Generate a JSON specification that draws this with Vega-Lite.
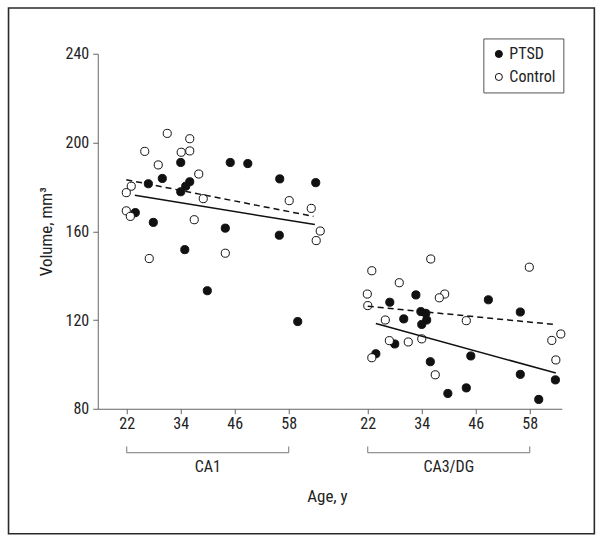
{
  "$schema": "https://vega.github.io/schema/vega-lite/v6.json",
  "background": "white",
  "padding": 6.75,
  "bounds": "flush",
  "spacing": 0,
  "datasets": {
    "points": [
      {"region": "CA1", "group": "PTSD", "age": 34.0, "volume": 191.0},
      {"region": "CA1", "group": "PTSD", "age": 45.0, "volume": 191.0},
      {"region": "CA1", "group": "PTSD", "age": 48.9, "volume": 190.5},
      {"region": "CA1", "group": "PTSD", "age": 29.9, "volume": 183.8},
      {"region": "CA1", "group": "PTSD", "age": 56.0, "volume": 183.6},
      {"region": "CA1", "group": "PTSD", "age": 26.8, "volume": 181.4},
      {"region": "CA1", "group": "PTSD", "age": 36.0, "volume": 182.3},
      {"region": "CA1", "group": "PTSD", "age": 64.0, "volume": 181.9},
      {"region": "CA1", "group": "PTSD", "age": 35.1, "volume": 180.3},
      {"region": "CA1", "group": "PTSD", "age": 34.0, "volume": 177.8},
      {"region": "CA1", "group": "PTSD", "age": 23.9, "volume": 168.4},
      {"region": "CA1", "group": "PTSD", "age": 27.9, "volume": 164.0},
      {"region": "CA1", "group": "PTSD", "age": 43.9, "volume": 161.4},
      {"region": "CA1", "group": "PTSD", "age": 55.9, "volume": 158.2},
      {"region": "CA1", "group": "PTSD", "age": 34.9, "volume": 151.7},
      {"region": "CA1", "group": "PTSD", "age": 39.9, "volume": 133.2},
      {"region": "CA1", "group": "PTSD", "age": 60.0, "volume": 119.3},
      {"region": "CA1", "group": "Control", "age": 31.0, "volume": 204.1},
      {"region": "CA1", "group": "Control", "age": 36.0, "volume": 201.7},
      {"region": "CA1", "group": "Control", "age": 26.0, "volume": 196.0},
      {"region": "CA1", "group": "Control", "age": 34.1, "volume": 195.6},
      {"region": "CA1", "group": "Control", "age": 36.0, "volume": 196.2},
      {"region": "CA1", "group": "Control", "age": 29.0, "volume": 189.9},
      {"region": "CA1", "group": "Control", "age": 38.0, "volume": 185.8},
      {"region": "CA1", "group": "Control", "age": 23.0, "volume": 180.3},
      {"region": "CA1", "group": "Control", "age": 21.9, "volume": 177.4},
      {"region": "CA1", "group": "Control", "age": 39.0, "volume": 174.7},
      {"region": "CA1", "group": "Control", "age": 58.1, "volume": 173.8},
      {"region": "CA1", "group": "Control", "age": 63.0, "volume": 170.3},
      {"region": "CA1", "group": "Control", "age": 21.9, "volume": 169.2},
      {"region": "CA1", "group": "Control", "age": 22.8, "volume": 166.7},
      {"region": "CA1", "group": "Control", "age": 37.0, "volume": 165.2},
      {"region": "CA1", "group": "Control", "age": 65.0, "volume": 160.1},
      {"region": "CA1", "group": "Control", "age": 64.1, "volume": 155.8},
      {"region": "CA1", "group": "Control", "age": 43.9, "volume": 150.1},
      {"region": "CA1", "group": "Control", "age": 27.0, "volume": 147.7},
      {"region": "CA3/DG", "group": "PTSD", "age": 32.7, "volume": 131.3},
      {"region": "CA3/DG", "group": "PTSD", "age": 48.8, "volume": 129.1},
      {"region": "CA3/DG", "group": "PTSD", "age": 26.9, "volume": 128.0},
      {"region": "CA3/DG", "group": "PTSD", "age": 55.9, "volume": 123.6},
      {"region": "CA3/DG", "group": "PTSD", "age": 33.8, "volume": 123.8},
      {"region": "CA3/DG", "group": "PTSD", "age": 34.9, "volume": 123.0},
      {"region": "CA3/DG", "group": "PTSD", "age": 30.0, "volume": 120.5},
      {"region": "CA3/DG", "group": "PTSD", "age": 35.1, "volume": 120.0},
      {"region": "CA3/DG", "group": "PTSD", "age": 34.0, "volume": 118.0},
      {"region": "CA3/DG", "group": "PTSD", "age": 28.0, "volume": 109.2},
      {"region": "CA3/DG", "group": "PTSD", "age": 23.8, "volume": 104.8},
      {"region": "CA3/DG", "group": "PTSD", "age": 44.9, "volume": 103.8},
      {"region": "CA3/DG", "group": "PTSD", "age": 35.9, "volume": 101.2},
      {"region": "CA3/DG", "group": "PTSD", "age": 55.9, "volume": 95.5},
      {"region": "CA3/DG", "group": "PTSD", "age": 63.7, "volume": 93.0},
      {"region": "CA3/DG", "group": "PTSD", "age": 43.9, "volume": 89.4},
      {"region": "CA3/DG", "group": "PTSD", "age": 39.8, "volume": 86.9},
      {"region": "CA3/DG", "group": "PTSD", "age": 60.0, "volume": 84.2},
      {"region": "CA3/DG", "group": "Control", "age": 36.0, "volume": 147.5},
      {"region": "CA3/DG", "group": "Control", "age": 57.9, "volume": 143.8},
      {"region": "CA3/DG", "group": "Control", "age": 22.9, "volume": 142.2},
      {"region": "CA3/DG", "group": "Control", "age": 29.0, "volume": 136.8},
      {"region": "CA3/DG", "group": "Control", "age": 21.9, "volume": 131.7},
      {"region": "CA3/DG", "group": "Control", "age": 39.1, "volume": 131.7},
      {"region": "CA3/DG", "group": "Control", "age": 37.9, "volume": 130.0},
      {"region": "CA3/DG", "group": "Control", "age": 22.0, "volume": 126.5},
      {"region": "CA3/DG", "group": "Control", "age": 25.9, "volume": 120.0},
      {"region": "CA3/DG", "group": "Control", "age": 43.9, "volume": 119.7},
      {"region": "CA3/DG", "group": "Control", "age": 64.9, "volume": 113.7},
      {"region": "CA3/DG", "group": "Control", "age": 62.9, "volume": 110.8},
      {"region": "CA3/DG", "group": "Control", "age": 26.8, "volume": 110.7},
      {"region": "CA3/DG", "group": "Control", "age": 31.0, "volume": 110.1},
      {"region": "CA3/DG", "group": "Control", "age": 34.0, "volume": 111.5},
      {"region": "CA3/DG", "group": "Control", "age": 63.8, "volume": 102.0},
      {"region": "CA3/DG", "group": "Control", "age": 22.9, "volume": 103.0},
      {"region": "CA3/DG", "group": "Control", "age": 37.0, "volume": 95.3}
    ],
    "lines": [
      {"region": "CA1", "group": "PTSD", "age": 23.8, "volume": 176.2},
      {"region": "CA1", "group": "PTSD", "age": 63.8, "volume": 163.0},
      {"region": "CA1", "group": "Control", "age": 21.9, "volume": 183.2},
      {"region": "CA1", "group": "Control", "age": 63.5, "volume": 166.7},
      {"region": "CA3/DG", "group": "PTSD", "age": 23.8, "volume": 118.4},
      {"region": "CA3/DG", "group": "PTSD", "age": 63.8, "volume": 96.1},
      {"region": "CA3/DG", "group": "Control", "age": 22.0, "volume": 126.2},
      {"region": "CA3/DG", "group": "Control", "age": 63.9, "volume": 117.9}
    ]
  },
  "config": {
    "view": {"stroke": null},
    "font": "Roboto Condensed",
    "axis": {
      "grid": false,
      "domainColor": "#666666",
      "tickColor": "#666666",
      "tickSize": 5,
      "labelFont": "Roboto Condensed",
      "labelFontSize": 16,
      "labelColor": "#222222",
      "titleFont": "Roboto Condensed",
      "titleFontWeight": "normal",
      "titleColor": "#222222"
    },
    "legend": {
      "labelFont": "Roboto Condensed"
    }
  },
  "resolve": {
    "scale": {"x": "independent", "y": "independent"},
    "legend": {"fill": "independent"}
  },
  "hconcat": [
    {
      "width": 240,
      "height": 355,
      "layer": [
        {
          "data": {"name": "points"},
          "transform": [{"filter": "datum.region === 'CA1'"}],
          "mark": {"type": "circle", "size": 66, "stroke": "#111111", "strokeWidth": 1, "opacity": 1},
          "encoding": {
            "x": {"field": "age", "type": "quantitative",
              "scale": {"domain": [15.556, 68.889], "nice": false, "zero": false},
              "axis": {"values": [22, 34, 46, 58], "title": null, "labelPadding": 2}},
            "y": {"field": "volume", "type": "quantitative",
              "scale": {"domain": [80, 240], "nice": false, "zero": false},
              "axis": {"values": [80, 120, 160, 200, 240], "title": "Volume, mm³", "titleFontSize": 17, "titlePadding": 10, "labelPadding": 4}},
            "fill": {"field": "group", "type": "nominal",
              "scale": {"domain": ["PTSD", "Control"], "range": ["#111111", "#ffffff"]},
              "legend": null}
          }
        },
        {
          "data": {"name": "lines"},
          "transform": [{"filter": "datum.region === 'CA1' && datum.group === 'PTSD'"}],
          "mark": {"type": "line", "color": "#111111", "strokeWidth": 1.5},
          "encoding": {
            "x": {"field": "age", "type": "quantitative"},
            "y": {"field": "volume", "type": "quantitative"}
          }
        },
        {
          "data": {"name": "lines"},
          "transform": [{"filter": "datum.region === 'CA1' && datum.group === 'Control'"}],
          "mark": {"type": "line", "color": "#111111", "strokeWidth": 1.5, "strokeDash": [6, 4]},
          "encoding": {
            "x": {"field": "age", "type": "quantitative"},
            "y": {"field": "volume", "type": "quantitative"}
          }
        },
        {
          "data": {"values": [{}]},
          "mark": {"type": "rule", "color": "#777777", "strokeWidth": 1},
          "encoding": {
            "x": {"datum": 22, "type": "quantitative"},
            "x2": {"datum": 58},
            "y": {"datum": 60.17, "type": "quantitative"}
          }
        },
        {
          "data": {"values": [{}]},
          "mark": {"type": "rule", "color": "#777777", "strokeWidth": 1},
          "encoding": {
            "x": {"datum": 22, "type": "quantitative"},
            "y": {"datum": 60.17, "type": "quantitative"},
            "y2": {"datum": 63.0}
          }
        },
        {
          "data": {"values": [{}]},
          "mark": {"type": "rule", "color": "#777777", "strokeWidth": 1},
          "encoding": {
            "x": {"datum": 58, "type": "quantitative"},
            "y": {"datum": 60.17, "type": "quantitative"},
            "y2": {"datum": 63.0}
          }
        },
        {
          "data": {"values": [{}]},
          "mark": {"type": "text", "fontSize": 16, "color": "#222222", "baseline": "middle", "align": "center"},
          "encoding": {
            "x": {"datum": 40, "type": "quantitative"},
            "y": {"datum": 53.7, "type": "quantitative"},
            "text": {"value": "CA1"}
          }
        },
        {
          "data": {"values": [{}]},
          "mark": {"type": "text", "fontSize": 17, "color": "#222222", "baseline": "middle", "align": "center"},
          "encoding": {
            "x": {"datum": 66.6, "type": "quantitative"},
            "y": {"datum": 40.16, "type": "quantitative"},
            "text": {"value": "Age, y"}
          }
        },
        {
          "data": {"values": [{}]},
          "mark": {"type": "rect", "filled": false, "stroke": "#2a2a2a", "strokeWidth": 1.6},
          "encoding": {
            "x": {"datum": -4.27, "type": "quantitative"},
            "x2": {"datum": 125.91},
            "y": {"datum": 260.64, "type": "quantitative"},
            "y2": {"datum": 23.66}
          }
        }
      ]
    },
    {
      "width": 224,
      "height": 355,
      "layer": [
        {
          "data": {"name": "points"},
          "transform": [{"filter": "datum.region === 'CA3/DG'"}],
          "mark": {"type": "circle", "size": 66, "stroke": "#111111", "strokeWidth": 1, "opacity": 1},
          "encoding": {
            "x": {"field": "age", "type": "quantitative",
              "scale": {"domain": [15.333, 65.111], "nice": false, "zero": false},
              "axis": {"values": [22, 34, 46, 58], "title": null, "labelPadding": 2}},
            "y": {"field": "volume", "type": "quantitative",
              "scale": {"domain": [80, 240], "nice": false, "zero": false},
              "axis": null},
            "fill": {"field": "group", "type": "nominal",
              "scale": {"domain": ["PTSD", "Control"], "range": ["#111111", "#ffffff"]},
              "legend": {"title": null, "orient": "none", "legendX": 145.6, "legendY": -15.3,
                "strokeColor": "#555555", "padding": 7.5, "labelFontSize": 16, "labelColor": "#222222",
                "symbolSize": 50, "symbolType": "circle", "symbolStrokeColor": "#111111", "symbolStrokeWidth": 1,
                "rowPadding": 7, "labelOffset": 2.5}}
          }
        },
        {
          "data": {"name": "lines"},
          "transform": [{"filter": "datum.region === 'CA3/DG' && datum.group === 'PTSD'"}],
          "mark": {"type": "line", "color": "#111111", "strokeWidth": 1.5},
          "encoding": {
            "x": {"field": "age", "type": "quantitative"},
            "y": {"field": "volume", "type": "quantitative"}
          }
        },
        {
          "data": {"name": "lines"},
          "transform": [{"filter": "datum.region === 'CA3/DG' && datum.group === 'Control'"}],
          "mark": {"type": "line", "color": "#111111", "strokeWidth": 1.5, "strokeDash": [6, 4]},
          "encoding": {
            "x": {"field": "age", "type": "quantitative"},
            "y": {"field": "volume", "type": "quantitative"}
          }
        },
        {
          "data": {"values": [{}]},
          "mark": {"type": "rule", "color": "#777777", "strokeWidth": 1},
          "encoding": {
            "x": {"datum": 22, "type": "quantitative"},
            "x2": {"datum": 58},
            "y": {"datum": 60.17, "type": "quantitative"}
          }
        },
        {
          "data": {"values": [{}]},
          "mark": {"type": "rule", "color": "#777777", "strokeWidth": 1},
          "encoding": {
            "x": {"datum": 22, "type": "quantitative"},
            "y": {"datum": 60.17, "type": "quantitative"},
            "y2": {"datum": 63.0}
          }
        },
        {
          "data": {"values": [{}]},
          "mark": {"type": "rule", "color": "#777777", "strokeWidth": 1},
          "encoding": {
            "x": {"datum": 58, "type": "quantitative"},
            "y": {"datum": 60.17, "type": "quantitative"},
            "y2": {"datum": 63.0}
          }
        },
        {
          "data": {"values": [{}]},
          "mark": {"type": "text", "fontSize": 16, "color": "#222222", "baseline": "middle", "align": "center"},
          "encoding": {
            "x": {"datum": 40, "type": "quantitative"},
            "y": {"datum": 53.7, "type": "quantitative"},
            "text": {"value": "CA3/DG"}
          }
        }
      ]
    }
  ]
}
